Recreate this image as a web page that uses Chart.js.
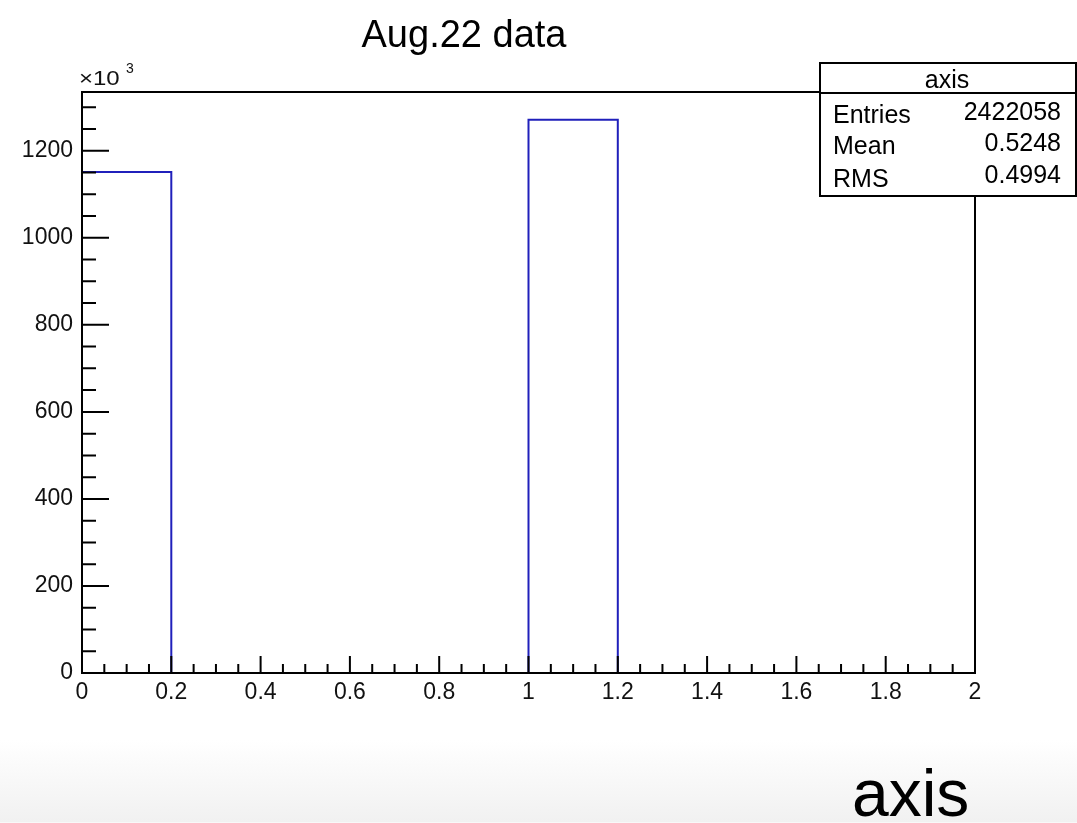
<!DOCTYPE html>
<html>
<head>
<meta charset="utf-8">
<title>Aug.22 data</title>
<script src="https://cdn.jsdelivr.net/npm/chart.js@4"></script>
<style>
  html, body { margin: 0; padding: 0; overflow: hidden; }
  body {
    width: 1077px; height: 823px;
    background: linear-gradient(to bottom, #ffffff 0px, #ffffff 740px, #f1f1f1 822px, #ffffff 823px);
  }
  canvas { display: block; }
</style>
</head>
<body>
<canvas id="histo" width="1077" height="823"></canvas>
<script>
/* histograma "axis" - contagens em unidades de 10^3 */
const binEdges = [0, 0.2, 0.4, 0.6, 0.8, 1.0, 1.2, 1.4, 1.6, 1.8, 2.0];
const binCounts = [1151.0, 0, 0, 0, 0, 1271.1, 0, 0, 0, 0];

/* eixos */
const xTicks = [0, 0.2, 0.4, 0.6, 0.8, 1, 1.2, 1.4, 1.6, 1.8, 2];
const xTickLabels = ['0', '0.2', '0.4', '0.6', '0.8', '1', '1.2', '1.4', '1.6', '1.8', '2'];
const yTicks = [0, 200, 400, 600, 800, 1000, 1200];
const yTickLabels = ['0', '200', '400', '600', '800', '1000', '1200'];
const yMax = 1335;

/* caixa de estatísticas */
const statNames = ['Entries', 'Mean', 'RMS'];
const statValues = ['2422058', '0.5248', '0.4994'];

const FONT = '"Liberation Sans", Arial, Helvetica, sans-serif';

/* pontos do contorno em degrau: cada ponto (borda direita) carrega a altura do bin
   e com stepped 'after' o Chart.js sobe na borda esquerda e segue na horizontal */
const stepData = [{ x: binEdges[0], y: 0 }].concat(
  binCounts.map((c, i) => ({ x: binEdges[i + 1], y: c }))
);

/* Desenha moldura, ticks para dentro (estilo ROOT), textos e caixa de stats */
const rootFrame = {
  id: 'rootFrame',
  afterDatasetsDraw(chart) {
    const { ctx, chartArea: a, scales } = chart;
    const xs = scales.x, ys = scales.y;
    ctx.save();
    ctx.strokeStyle = '#000';
    ctx.fillStyle = '#000';
    ctx.lineWidth = 2;

    // ticks do eixo X (maiores e menores)
    ctx.beginPath();
    xTicks.forEach((v, i) => {
      const px = xs.getPixelForValue(v);
      ctx.moveTo(px, a.bottom); ctx.lineTo(px, a.bottom - 17);
      if (i < xTicks.length - 1) {
        const step = (xTicks[i + 1] - v) / 4;
        for (let k = 1; k < 4; k++) {
          const mx = xs.getPixelForValue(v + k * step);
          ctx.moveTo(mx, a.bottom); ctx.lineTo(mx, a.bottom - 9);
        }
      }
    });
    // ticks do eixo Y
    const yMajor = yTicks[1] - yTicks[0];
    const yStep = yMajor / 4;
    yTicks.forEach(v => {
      const py = ys.getPixelForValue(v);
      ctx.moveTo(a.left, py); ctx.lineTo(a.left + 27, py);
    });
    for (let v = yStep; v < yMax; v += yStep) {
      if (v % yMajor === 0) continue;
      const py = ys.getPixelForValue(v);
      ctx.moveTo(a.left, py); ctx.lineTo(a.left + 14, py);
    }
    ctx.stroke();

    // moldura
    ctx.strokeRect(a.left, a.top, a.right - a.left, a.bottom - a.top);

    // rótulos
    ctx.font = '23px ' + FONT;
    ctx.fillStyle = '#111';
    ctx.textAlign = 'center';
    ctx.textBaseline = 'top';
    xTicks.forEach((v, i) => ctx.fillText(xTickLabels[i], xs.getPixelForValue(v), a.bottom + 8));
    ctx.textAlign = 'right';
    ctx.textBaseline = 'middle';
    yTicks.forEach((v, i) => ctx.fillText(yTickLabels[i], a.left - 9, ys.getPixelForValue(v)));

    // x10^3 (levemente esticado na horizontal, como no original)
    ctx.textAlign = 'left';
    ctx.textBaseline = 'alphabetic';
    ctx.save();
    ctx.translate(79, 85);
    ctx.scale(1.2, 1);
    ctx.font = '20px ' + FONT;
    ctx.fillText('\u00d710', 0, 0);
    ctx.restore();
    ctx.font = '14px ' + FONT;
    ctx.fillText('3', 126, 73);

    // título
    ctx.fillStyle = '#000';
    ctx.font = '38px ' + FONT;
    ctx.textAlign = 'center';
    ctx.fillText('Aug.22 data', 464, 47);

    // título do eixo X
    ctx.font = '66px ' + FONT;
    ctx.textAlign = 'left';
    ctx.fillText('axis', 852, 816);

    // caixa de estatísticas
    const bx = 820, by = 63, bw = 256, bh = 133;
    ctx.fillStyle = '#fff';
    ctx.fillRect(bx, by, bw, bh);
    ctx.strokeRect(bx, by, bw, bh);
    ctx.beginPath();
    ctx.moveTo(bx, 93); ctx.lineTo(bx + bw, 93);
    ctx.stroke();
    ctx.fillStyle = '#000';
    ctx.font = '25px ' + FONT;
    ctx.textAlign = 'center';
    ctx.fillText('axis', 947, 88);
    const nameBase = [123, 154, 187];
    const valBase = [120, 151, 183];
    statNames.forEach((n, i) => {
      ctx.textAlign = 'left';
      ctx.fillText(n, 833, nameBase[i]);
      ctx.textAlign = 'right';
      ctx.fillText(statValues[i], 1061, valBase[i]);
    });
    ctx.restore();
  }
};

const chart = new Chart(document.getElementById('histo'), {
  type: 'line',
  data: {
    datasets: [{
      label: 'axis',
      data: stepData,
      stepped: 'after',
      borderColor: '#2020bb',
      borderWidth: 2,
      pointRadius: 0,
      fill: false
    }]
  },
  options: {
    responsive: false,
    animation: false,
    devicePixelRatio: 1,
    layout: { padding: { left: 82, top: 92, right: 102, bottom: 150 } },
    scales: {
      x: { type: 'linear', min: 0, max: 2, display: false },
      y: { min: 0, max: yMax, display: false }
    },
    plugins: { legend: { display: false }, tooltip: { enabled: false } }
  },
  plugins: [rootFrame]
});
</script>
</body>
</html>
